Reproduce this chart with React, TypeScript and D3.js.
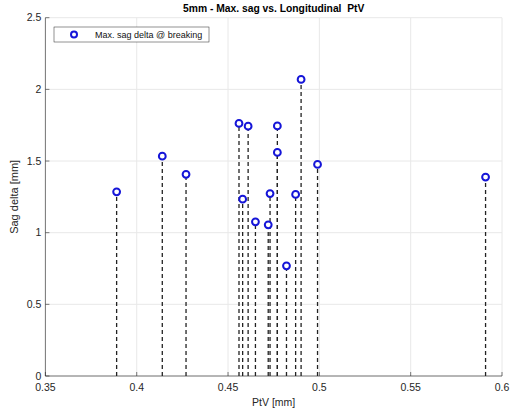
import React from "react";
import * as d3 from "d3";

const ptv = [0.389, 0.414, 0.427, 0.456, 0.458, 0.461, 0.465, 0.472, 0.473, 0.477, 0.477, 0.482, 0.487, 0.49, 0.499, 0.591];
const sag = [1.285, 1.534, 1.407, 1.762, 1.234, 1.743, 1.076, 1.055, 1.273, 1.745, 1.56, 0.769, 1.267, 2.069, 1.476, 1.388];
const xTicks = [0.35, 0.4, 0.45, 0.5, 0.55, 0.6];
const yTicks = [0, 0.5, 1, 1.5, 2, 2.5];
const titleText = "5mm - Max. sag vs. Longitudinal  PtV";
const xLabel = "PtV [mm]";
const yLabel = "Sag delta [mm]";
const legendText = "Max. sag delta @ breaking";

const W = 515, H = 414;
const M = { left: 45.4, right: 502, top: 17.7, bottom: 376 };
const font = "'Liberation Sans', Arial, Helvetica, sans-serif";

export default function App() {
  const x = d3.scaleLinear().domain([0.35, 0.6]).range([M.left, M.right]);
  const y = d3.scaleLinear().domain([0, 2.5]).range([M.bottom, M.top]);
  const fmt = (v: number) => String(v);
  const blue = "#1515d8";
  return (
    <svg width={W} height={H} style={{ position: "absolute", left: 0, top: 0, background: "#fff" }} fontFamily={font}>
      <rect width={W} height={H} fill="#fff" />
      {xTicks.map((t) => (
        <line key={"gx" + t} x1={x(t)} x2={x(t)} y1={M.top} y2={M.bottom} stroke="#e8e8e8" strokeWidth={1} />
      ))}
      {yTicks.map((t) => (
        <line key={"gy" + t} x1={M.left} x2={M.right} y1={y(t)} y2={y(t)} stroke="#e8e8e8" strokeWidth={1} />
      ))}
      <line x1={M.left} x2={M.left} y1={M.top} y2={M.bottom} stroke="#262626" strokeWidth={0.6} />
      <line x1={M.left} x2={M.right} y1={M.bottom} y2={M.bottom} stroke="#262626" strokeWidth={0.6} />
      {xTicks.map((t) => (
        <g key={"tx" + t}>
          <line x1={x(t)} x2={x(t)} y1={M.bottom} y2={M.bottom - 4} stroke="#262626" strokeWidth={0.6} />
          <text x={x(t)} y={M.bottom + 15} textAnchor="middle" fontSize={10.5} fill="#262626">{fmt(t)}</text>
        </g>
      ))}
      {yTicks.map((t) => (
        <g key={"ty" + t}>
          <line x1={M.left} x2={M.left + 4} y1={y(t)} y2={y(t)} stroke="#262626" strokeWidth={0.6} />
          <text x={M.left - 4} y={y(t) + 3.5} textAnchor="end" fontSize={10.5} fill="#262626">{fmt(t)}</text>
        </g>
      ))}
      {ptv.map((p, i) => (
        <line key={"s" + i} x1={x(p)} x2={x(p)} y1={y(0)} y2={y(sag[i])} stroke="#222" strokeWidth={1.3} strokeDasharray="4,3" />
      ))}
      {ptv.map((p, i) => (
        <circle key={"c" + i} cx={x(p)} cy={y(sag[i])} r={3.4} fill="#fff" stroke={blue} strokeWidth={2} />
      ))}
      <rect x={54} y={27} width={155} height={15} fill="#fff" stroke="#262626" strokeWidth={0.5} />
      <circle cx={74} cy={34.5} r={3} fill="#fff" stroke={blue} strokeWidth={2} />
      <text x={95} y={37.8} fontSize={9} fill="#111">{legendText}</text>
      <text x={(M.left + M.right) / 2} y={12} textAnchor="middle" fontSize={10.3} fontWeight="bold" fill="#000" style={{ whiteSpace: "pre" }}>{titleText}</text>
      <text x={(M.left + M.right) / 2} y={406} textAnchor="middle" fontSize={10.5} fill="#262626">{xLabel}</text>
      <text transform={`translate(18,${(M.top + M.bottom) / 2}) rotate(-90)`} textAnchor="middle" fontSize={11} fill="#262626">{yLabel}</text>
    </svg>
  );
}
